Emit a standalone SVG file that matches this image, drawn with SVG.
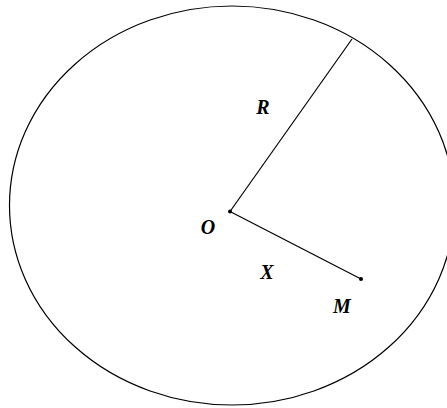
<svg xmlns="http://www.w3.org/2000/svg" width="447" height="408" viewBox="0 0 447 408">
<style>
.ln{stroke:#000;stroke-width:1.2;fill:none}
.lbl{font-family:"Liberation Serif",serif;font-weight:bold;font-style:italic;font-size:20px;fill:#000}
</style>
<rect width="447" height="408" fill="#fff"/>
<g id="circle"><ellipse class="ln" cx="232" cy="205.5" rx="222.5" ry="199.5"/></g>
<g id="connectors">
<line class="ln" x1="230" y1="211.5" x2="352" y2="39"/>
<line class="ln" x1="230" y1="211.5" x2="361" y2="279"/>
</g>
<g id="O"><circle cx="230" cy="211.5" r="2" fill="#000"/><text class="lbl" x="208" y="234" text-anchor="middle">O</text></g>
<g id="M"><circle cx="361" cy="279" r="2" fill="#000"/><text class="lbl" x="342" y="313" text-anchor="middle">M</text></g>
<g id="R"><text class="lbl" x="263" y="114" text-anchor="middle">R</text></g>
<g id="X"><text class="lbl" x="267" y="279" text-anchor="middle">X</text></g>
</svg>
